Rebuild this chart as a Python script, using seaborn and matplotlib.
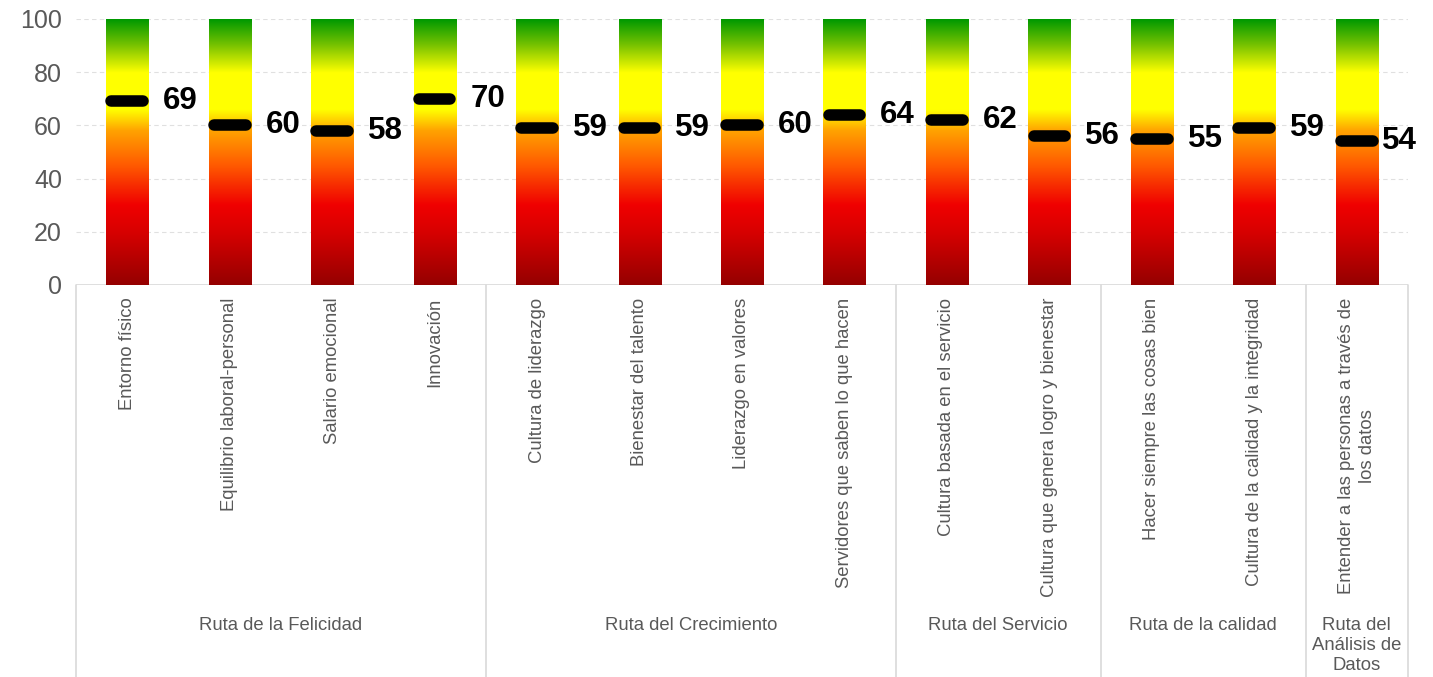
import numpy as np
import matplotlib
matplotlib.use("Agg")
import matplotlib.pyplot as plt
from matplotlib.colors import LinearSegmentedColormap
import seaborn as sns

categories = [
    "Entorno físico",
    "Equilibrio laboral-personal",
    "Salario emocional",
    "Innovación",
    "Cultura de liderazgo",
    "Bienestar del talento",
    "Liderazgo en valores",
    "Servidores que saben lo que hacen",
    "Cultura basada en el servicio",
    "Cultura que genera logro y bienestar",
    "Hacer siempre las cosas bien",
    "Cultura de la calidad y la integridad",
    "Entender a las personas a través de\nlos datos",
]
scores = [69, 60, 58, 70, 59, 59, 60, 64, 62, 56, 55, 59, 54]
groups = ["Ruta de la Felicidad", "Ruta del Crecimiento", "Ruta del Servicio",
          "Ruta de la calidad", "Ruta del\nAnálisis de\nDatos"]
group_sizes = [4, 4, 2, 2, 1]
scale_max = 100
yticks = [0, 20, 40, 60, 80, 100]

sns.set_theme(style="white")
plt.rcParams["font.family"] = ["Liberation Sans", "DejaVu Sans"]

W, H = 1433, 677
fig = plt.figure(figsize=(W / 100, H / 100), dpi=100)
ax_left, ax_right, ax_top, ax_bot = 76, 1408, 19, 285
ax = fig.add_axes([ax_left / W, 1 - ax_bot / H, (ax_right - ax_left) / W, (ax_bot - ax_top) / H])

# full-scale bars act as the frame for the colour gradient
sns.barplot(x=list(range(len(categories))), y=[scale_max] * len(categories),
            ax=ax, width=0.41, color="white", edgecolor="none", linewidth=0)

cmap = LinearSegmentedColormap.from_list("traffic", [
    (0.00, "#950000"),
    (0.20, "#d80000"),
    (0.30, "#f00000"),
    (0.45, "#ff5a00"),
    (0.58, "#ffa200"),
    (0.66, "#ffff00"),
    (0.80, "#ffff00"),
    (0.90, "#7cc400"),
    (1.00, "#009900"),
])
grad = np.linspace(0, 1, 256).reshape(-1, 1)
for p in ax.patches:
    x0, w = p.get_x(), p.get_width()
    im = ax.imshow(grad, cmap=cmap, origin="lower", aspect="auto",
                   extent=[x0, x0 + w, 0, scale_max], zorder=2)
    im.set_clip_path(p)

# score markers and labels
xs = np.arange(len(scores))
markers = ax.hlines(scores, xs - 0.155, xs + 0.155, colors="black", linewidth=8.3, zorder=4)
markers.set_capstyle("round")
for i, (x, v) in enumerate(zip(xs, scores)):
    dx = 0.35 if i < len(scores) - 1 else 0.25
    ax.text(x + dx, v, f"{v}", ha="left", va="center", fontsize=22.5,
            fontweight="bold", color="black", zorder=5)

ax.set_xlim(-0.5, len(categories) - 0.5)
ax.set_ylim(0, scale_max)
ax.set_yticks(yticks)
ax.set_yticklabels([str(t) for t in yticks], fontsize=18, color="#595959")
ax.tick_params(axis="y", length=0, pad=10)
for t in yticks[1:]:
    ax.axhline(t, color="#e0e0e0", linestyle=(0, (4, 3)), linewidth=0.8, zorder=0)

ax.set_xticks(xs)
ax.set_xticklabels(categories, rotation=90, fontsize=13.3, color="#595959",
                   va="top", ha="center", multialignment="center",
                   linespacing=1.3)
ax.tick_params(axis="x", length=0, pad=9)
ax.set_xlabel("")
ax.set_ylabel("")
for s in ax.spines.values():
    s.set_visible(False)
ax.axhline(0, color="#d9d9d9", linewidth=1.2, zorder=1)

# group separators and group names under the category labels
trans = ax.get_xaxis_transform()
bottom = -(H - ax_bot) / (ax_bot - ax_top)
edges = np.concatenate([[0], np.cumsum(group_sizes)]) - 0.5
for e in edges:
    ax.plot([e, e], [0, bottom], transform=trans, color="#d9d9d9",
            linewidth=1.2, clip_on=False)
label_y = -(617 - ax_bot) / (ax_bot - ax_top)
for name, a, b in zip(groups, edges[:-1], edges[1:]):
    ax.text((a + b) / 2, label_y, name, transform=trans, ha="center", va="top",
            fontsize=13.3, color="#595959", multialignment="center",
            linespacing=1.25)

fig.savefig("out.png", dpi=100)
